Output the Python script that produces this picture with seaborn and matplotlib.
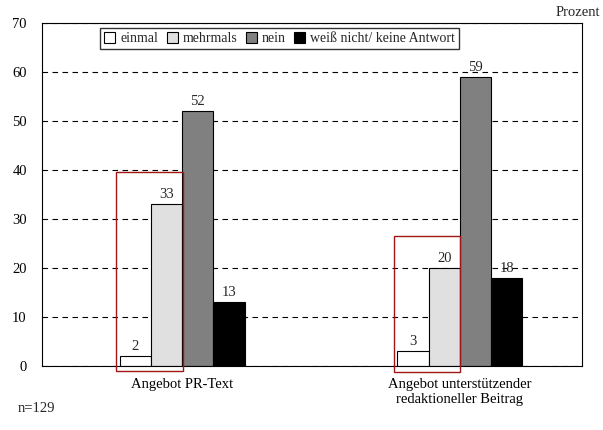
import matplotlib
matplotlib.use("Agg")
import matplotlib.pyplot as plt
import seaborn as sns
import pandas as pd
from matplotlib.patches import Rectangle

categories = ["Angebot PR-Text", "Angebot unterstützender\nredaktioneller Beitrag"]
hue_levels = ["einmal", "mehrmals", "nein", "weiß nicht/ keine Antwort"]
einmal = [2, 3]
mehrmals = [33, 20]
nein = [52, 59]
weiss_nicht = [13, 18]
colors = ["#ffffff", "#e0e0e0", "#808080", "#000000"]

rows = []
for i, c in enumerate(categories):
    for h, vals in zip(hue_levels, [einmal, mehrmals, nein, weiss_nicht]):
        rows.append({"cat": c, "hue": h, "val": vals[i]})
df = pd.DataFrame(rows)

sns.set_style("white")
plt.rcParams["font.family"] = ["Liberation Serif", "DejaVu Serif"]

fig = plt.figure(figsize=(6.03, 4.30), dpi=100)
ax = fig.add_axes([0.0697, 0.149, 0.8953, 0.7975])

sns.barplot(data=df, x="cat", y="val", hue="hue", hue_order=hue_levels,
            palette=colors, width=0.45, edgecolor="black", linewidth=0.8,
            ax=ax, legend=True, saturation=1)

ax.set_ylim(0, 70)
ax.set_xlim(-0.504, 1.439)
ax.set_yticks(range(0, 71, 10))
ax.yaxis.grid(True, linestyle=(0, (5, 4)), color="black", linewidth=0.8)
ax.set_axisbelow(True)
ax.set_xlabel("")
ax.set_ylabel("")
ax.tick_params(axis="both", length=0, labelsize=10.5, colors="black")
ax.tick_params(axis="y", pad=11)
ax.tick_params(axis="x", pad=9)
for s in ax.spines.values():
    s.set_color("black")
    s.set_linewidth(0.8)

for cont in ax.containers:
    ax.bar_label(cont, fmt="%d", fontsize=10.5, padding=2)

# red highlight boxes around einmal + mehrmals bars
bars_e = ax.containers[0].patches
bars_m = ax.containers[1].patches
tops = [39.5, 26.5]
bottoms = [-1.1, -1.2]
for i in range(len(categories)):
    x0 = bars_e[i].get_x() - 0.013
    x1 = bars_m[i].get_x() + bars_m[i].get_width() + 0.002
    r = Rectangle((x0, bottoms[i]), x1 - x0, tops[i] - bottoms[i], fill=False,
                  edgecolor="#a01515", linewidth=1.0, clip_on=False, zorder=5)
    ax.add_patch(r)

leg = ax.legend(loc="upper center", bbox_to_anchor=(0.44, 0.985), ncol=4,
                frameon=True, fancybox=False, edgecolor="black", fontsize=10,
                handlelength=0.8, handleheight=0.75, handletextpad=0.35,
                columnspacing=0.6, borderpad=0.3, borderaxespad=0)
leg.get_frame().set_linewidth(1.0)

fig.text(0.995, 0.955, "Prozent", ha="right", va="bottom", fontsize=10.5)
fig.text(0.03, 0.035, "n=129", ha="left", va="bottom", fontsize=10.5)

fig.savefig("out.png", dpi=100)
